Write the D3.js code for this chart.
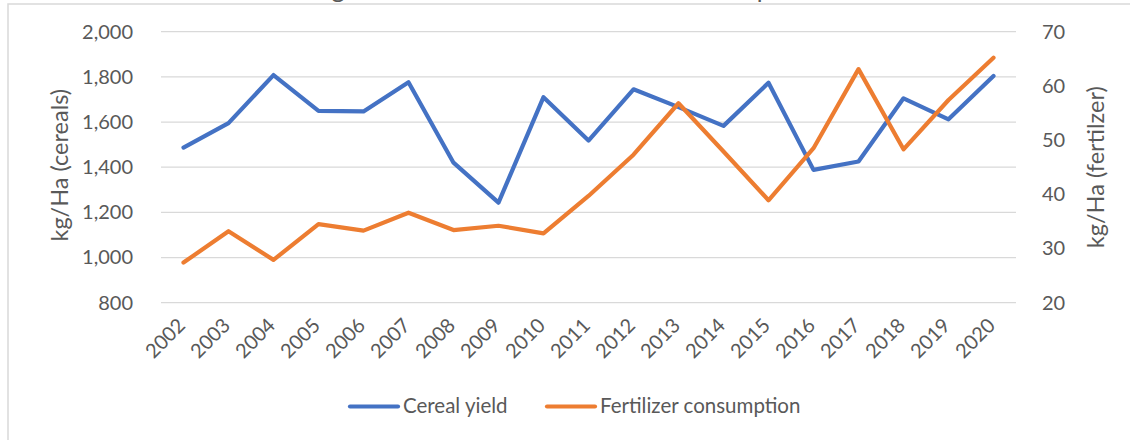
<!DOCTYPE html>
<html>
<head>
<meta charset="utf-8">
<script src="https://cdn.jsdelivr.net/npm/d3@7"></script>
<style>
    body { margin: 0; background: #fff; }
    text { font-family: Lato, "Liberation Sans", sans-serif; fill: #595959; }
</style>
</head>
<body>
<svg id="chart" width="1130" height="440"></svg>
<script>
const years = ["2002", "2003", "2004", "2005", "2006", "2007", "2008", "2009", "2010", "2011",
    "2012", "2013", "2014", "2015", "2016", "2017", "2018", "2019", "2020"];
const cerealYield = [1487, 1595, 1808, 1649, 1647, 1776, 1420, 1243, 1710, 1518,
    1745, 1666, 1583, 1774, 1388, 1425, 1705, 1612, 1804];
const fertilizer = [27.4, 33.2, 27.9, 34.5, 33.3, 36.6, 33.4, 34.2, 32.8, 39.7,
    47.3, 56.8, 47.9, 38.9, 48.5, 63.1, 48.3, 57.4, 65.2];
const leftTicks = [800, 1000, 1200, 1400, 1600, 1800, 2000];
const rightTicks = [20, 30, 40, 50, 60, 70];
const seriesNames = ["Cereal yield", "Fertilizer consumption"];
const titleText = "Average cereal harvest and fertilizer consumption";

const blue = "#4472C4";
const orange = "#ED7D31";

let svg = d3.select("#chart");
let plotLeft = 161, plotRight = 1016, plotTop = 31.7, plotBottom = 302.7;

// chart area border (cropped on the right and bottom)
svg.append("rect")
    .attr("x", 8).attr("y", 4)
    .attr("width", 1140).attr("height", 450)
    .attr("fill", "#fff")
    .attr("stroke", "#d9d9d9").attr("stroke-width", 1.5);

// title, only its descenders show above the border
let title = svg.append("text")
    .attr("y", -2)
    .attr("font-size", 20)
    .text(titleText);
let node = title.node();
let gi = titleText.indexOf("g"), pi = titleText.indexOf("p");
let gPos = node.getSubStringLength(0, gi) + node.getSubStringLength(gi, 1) / 2;
let pPos = node.getSubStringLength(0, pi);
let scale = (757 - 338) / (pPos - gPos);
title.attr("font-size", 20 * scale).attr("x", 338 - gPos * scale);

let x = d3.scaleBand().domain(years).range([plotLeft, plotRight]);
let yLeft = d3.scaleLinear().domain([800, 2000]).range([plotBottom, plotTop]);
let yRight = d3.scaleLinear().domain([20, 70]).range([plotBottom, plotTop]);
let cx = d => x(d) + x.bandwidth() / 2;

// gridlines
svg.append("g")
    .selectAll("line")
    .data(leftTicks)
    .join("line")
    .attr("x1", plotLeft).attr("x2", plotRight)
    .attr("y1", d => yLeft(d)).attr("y2", d => yLeft(d))
    .attr("stroke", "#d9d9d9").attr("stroke-width", 1.3);

// left axis
let axisL = svg.append("g")
    .attr("transform", `translate(${plotLeft},0)`)
    .call(d3.axisLeft(yLeft).tickValues(leftTicks).tickFormat(d3.format(",")).tickSize(0).tickPadding(28));
axisL.select(".domain").remove();
axisL.selectAll("text").attr("font-size", 20).attr("font-family", null).attr("fill", null);

// right axis
let axisR = svg.append("g")
    .attr("transform", `translate(${plotRight},0)`)
    .call(d3.axisRight(yRight).tickValues(rightTicks).tickSize(0).tickPadding(26));
axisR.select(".domain").remove();
axisR.selectAll("text").attr("font-size", 20).attr("font-family", null).attr("fill", null);

// bottom axis with rotated labels
let axisB = svg.append("g")
    .attr("transform", `translate(0,${plotBottom})`)
    .call(d3.axisBottom(x).tickSize(0));
axisB.select(".domain").remove();
axisB.selectAll("text")
    .attr("font-size", 20).attr("font-family", null).attr("fill", null)
    .attr("text-anchor", "end")
    .attr("dy", null).attr("y", 0)
    .attr("transform", "translate(3,24) rotate(-45)");

// axis titles
svg.append("text")
    .attr("transform", `translate(68,${(plotTop + plotBottom) / 2 - 2}) rotate(-90)`)
    .attr("text-anchor", "middle")
    .attr("font-size", 23.5)
    .text("kg/Ha (cereals)");

svg.append("text")
    .attr("transform", `translate(1104,${(plotTop + plotBottom) / 2}) rotate(-90)`)
    .attr("text-anchor", "middle")
    .attr("font-size", 23.5)
    .text("kg/Ha (fertilzer)");

// series
let lineLeft = d3.line().x((d, i) => cx(years[i])).y(d => yLeft(d));
let lineRight = d3.line().x((d, i) => cx(years[i])).y(d => yRight(d));

svg.append("path")
    .datum(cerealYield)
    .attr("d", lineLeft)
    .attr("fill", "none")
    .attr("stroke", blue).attr("stroke-width", 4.2)
    .attr("stroke-linejoin", "round").attr("stroke-linecap", "round");

svg.append("path")
    .datum(fertilizer)
    .attr("d", lineRight)
    .attr("fill", "none")
    .attr("stroke", orange).attr("stroke-width", 4.2)
    .attr("stroke-linejoin", "round").attr("stroke-linecap", "round");

// legend
let legendItems = [
    { name: seriesNames[0], color: blue, x: 348 },
    { name: seriesNames[1], color: orange, x: 545 }
];
let legend = svg.append("g").selectAll("g").data(legendItems).join("g")
    .attr("transform", d => `translate(${d.x},406.5)`);
legend.append("line")
    .attr("x1", 2).attr("x2", 50)
    .attr("stroke", d => d.color).attr("stroke-width", 4.2).attr("stroke-linecap", "round");
legend.append("text")
    .attr("x", 55).attr("y", 6.5)
    .attr("font-size", 20.5)
    .text(d => d.name);
</script>
</body>
</html>
